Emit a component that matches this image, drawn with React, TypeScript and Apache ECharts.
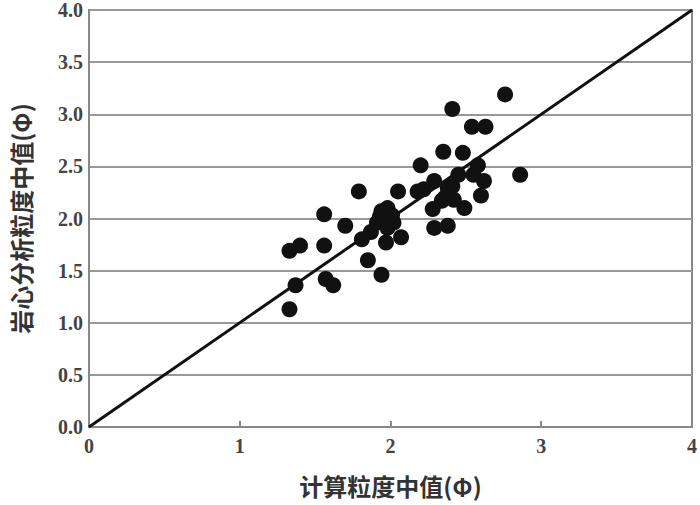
import React, { useEffect, useRef } from "react";
import * as echarts from "echarts";

const calcMedian = [
  2.76, 2.41, 2.54, 2.63, 2.35, 2.48, 2.20, 2.86, 2.58, 2.62,
  2.60, 2.49, 2.45, 2.41, 2.29, 2.22, 2.36, 2.28, 2.29, 2.38,
  2.05, 1.79, 1.94, 1.98, 2.01, 1.91, 2.07, 1.97, 1.81, 1.70,
  1.56, 1.56, 1.33, 1.40, 1.85, 1.94, 1.57, 1.62, 1.37, 1.33,
  1.98, 1.87, 2.38, 2.42, 2.34, 2.55, 2.18, 1.93, 2.02,
];
const coreMedian = [
  3.19, 3.05, 2.88, 2.88, 2.64, 2.63, 2.51, 2.42, 2.51, 2.36,
  2.22, 2.10, 2.42, 2.31, 2.36, 2.28, 2.20, 2.09, 1.91, 1.93,
  2.26, 2.26, 2.07, 2.10, 2.03, 1.96, 1.82, 1.77, 1.80, 1.93,
  2.04, 1.74, 1.69, 1.74, 1.60, 1.46, 1.42, 1.36, 1.36, 1.13,
  1.91, 1.87, 2.29, 2.18, 2.17, 2.42, 2.26, 2.02, 1.96,
];
const refLine = [
  [0, 0],
  [4, 4],
];
const xName = "计算粒度中值(Φ)";
const yName = "岩心分析粒度中值(Φ)";

export default function App() {
  const ref = useRef<HTMLDivElement>(null);
  useEffect(() => {
    if (!ref.current) return;
    const chart = echarts.init(ref.current, null, { renderer: "svg" });
    const pts = calcMedian.map((x, i) => [x, coreMedian[i]]);
    const labelStyle = {
      fontFamily: "Liberation Serif",
      fontWeight: "bold" as const,
      fontSize: 20,
      color: "#444",
    };
    chart.setOption({
      animation: false,
      backgroundColor: "#fff",
      grid: {
        left: 83,
        right: 4,
        top: 5,
        bottom: 78,
        show: true,
        borderColor: "#888",
        borderWidth: 2,
      },
      xAxis: {
        type: "value",
        min: 0,
        max: 4,
        interval: 1,
        name: xName,
        nameLocation: "middle",
        nameGap: 46,
        nameTextStyle: {
          fontFamily: "Noto Sans CJK SC",
          fontWeight: "bold",
          fontSize: 24,
          color: "#333",
        },
        axisLine: { show: true, lineStyle: { color: "#888", width: 2 } },
        axisTick: { show: true, inside: true, length: 6, lineStyle: { color: "#888", width: 2 } },
        axisLabel: { ...labelStyle, margin: 9 },
        splitLine: { show: false },
      },
      yAxis: {
        type: "value",
        min: 0,
        max: 4,
        interval: 0.5,
        name: yName,
        nameLocation: "middle",
        nameGap: 57,
        nameTextStyle: {
          fontFamily: "Noto Sans CJK SC",
          fontWeight: "bold",
          fontSize: 24,
          color: "#333",
        },
        axisLine: { show: true, lineStyle: { color: "#888", width: 2 } },
        axisTick: { show: false },
        axisLabel: {
          ...labelStyle,
          margin: 6,
          formatter: (v: number) => v.toFixed(1),
        },
        splitLine: { show: true, lineStyle: { color: "#999", width: 2 } },
      },
      series: [
        {
          type: "line",
          data: refLine,
          symbol: "none",
          lineStyle: { color: "#111", width: 3 },
          z: 3,
        },
        {
          type: "scatter",
          data: pts,
          symbol: "circle",
          symbolSize: 16,
          itemStyle: { color: "#111", opacity: 1 },
          z: 4,
        },
      ],
    });
    return () => chart.dispose();
  }, []);
  return <div ref={ref} style={{ width: 700, height: 505, position: "absolute", left: 0, top: 0 }} />;
}
